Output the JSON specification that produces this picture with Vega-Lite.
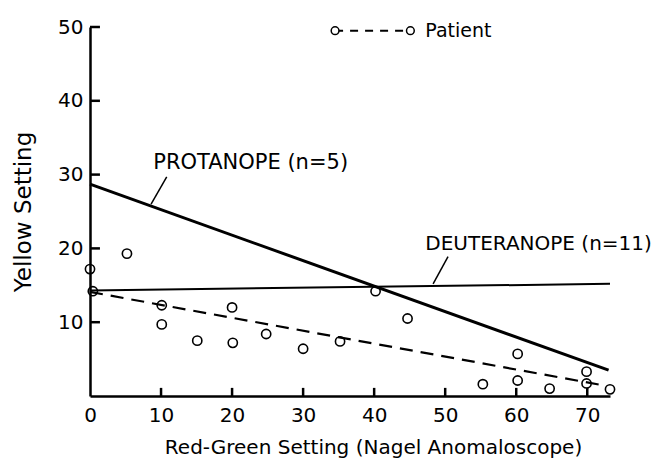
{
  "$schema": "https://vega.github.io/schema/vega-lite/v6.json",
  "width": 520,
  "height": 369,
  "autosize": "none",
  "padding": {"left": 90, "top": 27, "right": 47, "bottom": 65},
  "config": {
    "view": {"stroke": null},
    "font": "DejaVu Sans",
    "axis": {
      "grid": false,
      "domainColor": "black",
      "domainWidth": 2.5,
      "labelColor": "black",
      "labelFont": "DejaVu Sans",
      "labelFontSize": 20,
      "labelFlush": false,
      "titleColor": "black",
      "titleFont": "DejaVu Sans",
      "titleFontWeight": "normal"
    }
  },
  "resolve": {"axis": {"x": "independent", "y": "independent"}},
  "datasets": {
    "points": [
      {"x": 0, "y": 17.2}, {"x": 5.2, "y": 19.3}, {"x": 0.4, "y": 14.2},
      {"x": 10.1, "y": 12.3}, {"x": 10.1, "y": 9.7}, {"x": 15.1, "y": 7.5},
      {"x": 20, "y": 12.0}, {"x": 20.1, "y": 7.2}, {"x": 24.8, "y": 8.4},
      {"x": 30, "y": 6.4}, {"x": 35.2, "y": 7.4}, {"x": 40.2, "y": 14.2},
      {"x": 44.7, "y": 10.5}, {"x": 55.3, "y": 1.6}, {"x": 60.2, "y": 5.7},
      {"x": 60.2, "y": 2.1}, {"x": 64.7, "y": 1.0}, {"x": 69.9, "y": 3.3},
      {"x": 69.9, "y": 1.7}, {"x": 73.2, "y": 0.9}
    ],
    "lines": [
      {"series": "Protanope", "x": 0, "y": 28.7}, {"series": "Protanope", "x": 73, "y": 3.5},
      {"series": "Deuteranope", "x": 0, "y": 14.3}, {"series": "Deuteranope", "x": 73.2, "y": 15.2},
      {"series": "Patient", "x": 0, "y": 14.1}, {"series": "Patient", "x": 72.5, "y": 1.4}
    ],
    "labels": [
      {"text": "PROTANOPE (n=5)", "x": 8.9, "y": 31.6, "size": "big"},
      {"text": "DEUTERANOPE (n=11)", "x": 47.2, "y": 20.6, "size": "mid"},
      {"text": "Patient", "x": 47.2, "y": 49.5, "size": "small"}
    ],
    "leaders": [
      {"x": 10.8, "y": 29.7, "x2": 8.6, "y2": 26.0},
      {"x": 50.4, "y": 18.9, "x2": 48.3, "y2": 15.2}
    ],
    "legend": [
      {"x": 34.5, "y": 49.5}, {"x": 45.1, "y": 49.5}
    ],
    "xticks": [{"v": 10}, {"v": 20}, {"v": 30}, {"v": 40}, {"v": 50}, {"v": 60}, {"v": 70}],
    "yticks": [{"v": 10}, {"v": 20}, {"v": 30}, {"v": 40}, {"v": 50}]
  },
  "layer": [
    {
      "data": {"name": "lines"},
      "transform": [{"filter": "datum.series === 'Protanope'"}],
      "mark": {"type": "line", "color": "black", "strokeWidth": 3},
      "encoding": {
        "x": {"field": "x", "type": "quantitative", "scale": {"domain": [0, 73.2], "nice": false, "zero": false},
          "axis": {"orient": "bottom", "values": [0, 10, 20, 30, 40, 50, 60, 70], "title": "Red-Green Setting (Nagel Anomaloscope)", "ticks": false, "labelPadding": 9, "titlePadding": 12, "titleFontSize": 20, "titleX": 283, "titleAnchor": "middle"}},
        "y": {"field": "y", "type": "quantitative", "scale": {"domain": [0, 50], "nice": false},
          "axis": {"orient": "left", "values": [10, 20, 30, 40, 50], "title": "Yellow Setting", "ticks": false, "labelPadding": 7, "titlePadding": 22, "titleFontSize": 23}}
      }
    },
    {
      "data": {"name": "xticks"},
      "mark": {"type": "rule", "color": "black", "strokeWidth": 2.5},
      "encoding": {
        "x": {"field": "v", "type": "quantitative", "axis": null},
        "y": {"datum": 0, "type": "quantitative", "axis": null},
        "y2": {"datum": 1.1}
      }
    },
    {
      "data": {"name": "yticks"},
      "mark": {"type": "rule", "color": "black", "strokeWidth": 2.5},
      "encoding": {
        "y": {"field": "v", "type": "quantitative", "axis": null},
        "x": {"datum": 0, "type": "quantitative", "axis": null},
        "x2": {"datum": 1.4}
      }
    },
    {
      "data": {"name": "lines"},
      "transform": [{"filter": "datum.series === 'Deuteranope'"}],
      "mark": {"type": "line", "color": "black", "strokeWidth": 2},
      "encoding": {
        "x": {"field": "x", "type": "quantitative", "axis": null},
        "y": {"field": "y", "type": "quantitative", "axis": null}
      }
    },
    {
      "data": {"name": "lines"},
      "transform": [{"filter": "datum.series === 'Patient'"}],
      "mark": {"type": "line", "color": "black", "strokeWidth": 2.2, "strokeDash": [13, 8]},
      "encoding": {
        "x": {"field": "x", "type": "quantitative", "axis": null},
        "y": {"field": "y", "type": "quantitative", "axis": null}
      }
    },
    {
      "data": {"name": "points"},
      "mark": {"type": "point", "shape": "circle", "filled": false, "color": "black", "strokeWidth": 1.6, "size": 85, "opacity": 1},
      "encoding": {
        "x": {"field": "x", "type": "quantitative", "axis": null},
        "y": {"field": "y", "type": "quantitative", "axis": null}
      }
    },
    {
      "data": {"name": "leaders"},
      "mark": {"type": "rule", "color": "black", "strokeWidth": 1.5},
      "encoding": {
        "x": {"field": "x", "type": "quantitative", "axis": null},
        "y": {"field": "y", "type": "quantitative", "axis": null},
        "x2": {"field": "x2"},
        "y2": {"field": "y2"}
      }
    },
    {
      "data": {"name": "legend"},
      "mark": {"type": "line", "color": "black", "strokeWidth": 2, "strokeDash": [8, 7]},
      "encoding": {
        "x": {"field": "x", "type": "quantitative", "axis": null},
        "y": {"field": "y", "type": "quantitative", "axis": null}
      }
    },
    {
      "data": {"name": "legend"},
      "mark": {"type": "point", "shape": "circle", "filled": true, "fill": "white", "stroke": "black", "strokeWidth": 1.5, "size": 60, "opacity": 1},
      "encoding": {
        "x": {"field": "x", "type": "quantitative", "axis": null},
        "y": {"field": "y", "type": "quantitative", "axis": null}
      }
    },
    {
      "data": {"name": "labels"},
      "transform": [{"filter": "datum.size === 'big'"}],
      "mark": {"type": "text", "align": "left", "baseline": "middle", "font": "DejaVu Sans", "fontSize": 21, "color": "black"},
      "encoding": {
        "x": {"field": "x", "type": "quantitative", "axis": null},
        "y": {"field": "y", "type": "quantitative", "axis": null},
        "text": {"field": "text"}
      }
    },
    {
      "data": {"name": "labels"},
      "transform": [{"filter": "datum.size === 'mid'"}],
      "mark": {"type": "text", "align": "left", "baseline": "middle", "font": "DejaVu Sans", "fontSize": 20, "color": "black"},
      "encoding": {
        "x": {"field": "x", "type": "quantitative", "axis": null},
        "y": {"field": "y", "type": "quantitative", "axis": null},
        "text": {"field": "text"}
      }
    },
    {
      "data": {"name": "labels"},
      "transform": [{"filter": "datum.size === 'small'"}],
      "mark": {"type": "text", "align": "left", "baseline": "middle", "font": "DejaVu Sans", "fontSize": 19, "color": "black"},
      "encoding": {
        "x": {"field": "x", "type": "quantitative", "axis": null},
        "y": {"field": "y", "type": "quantitative", "axis": null},
        "text": {"field": "text"}
      }
    }
  ]
}
